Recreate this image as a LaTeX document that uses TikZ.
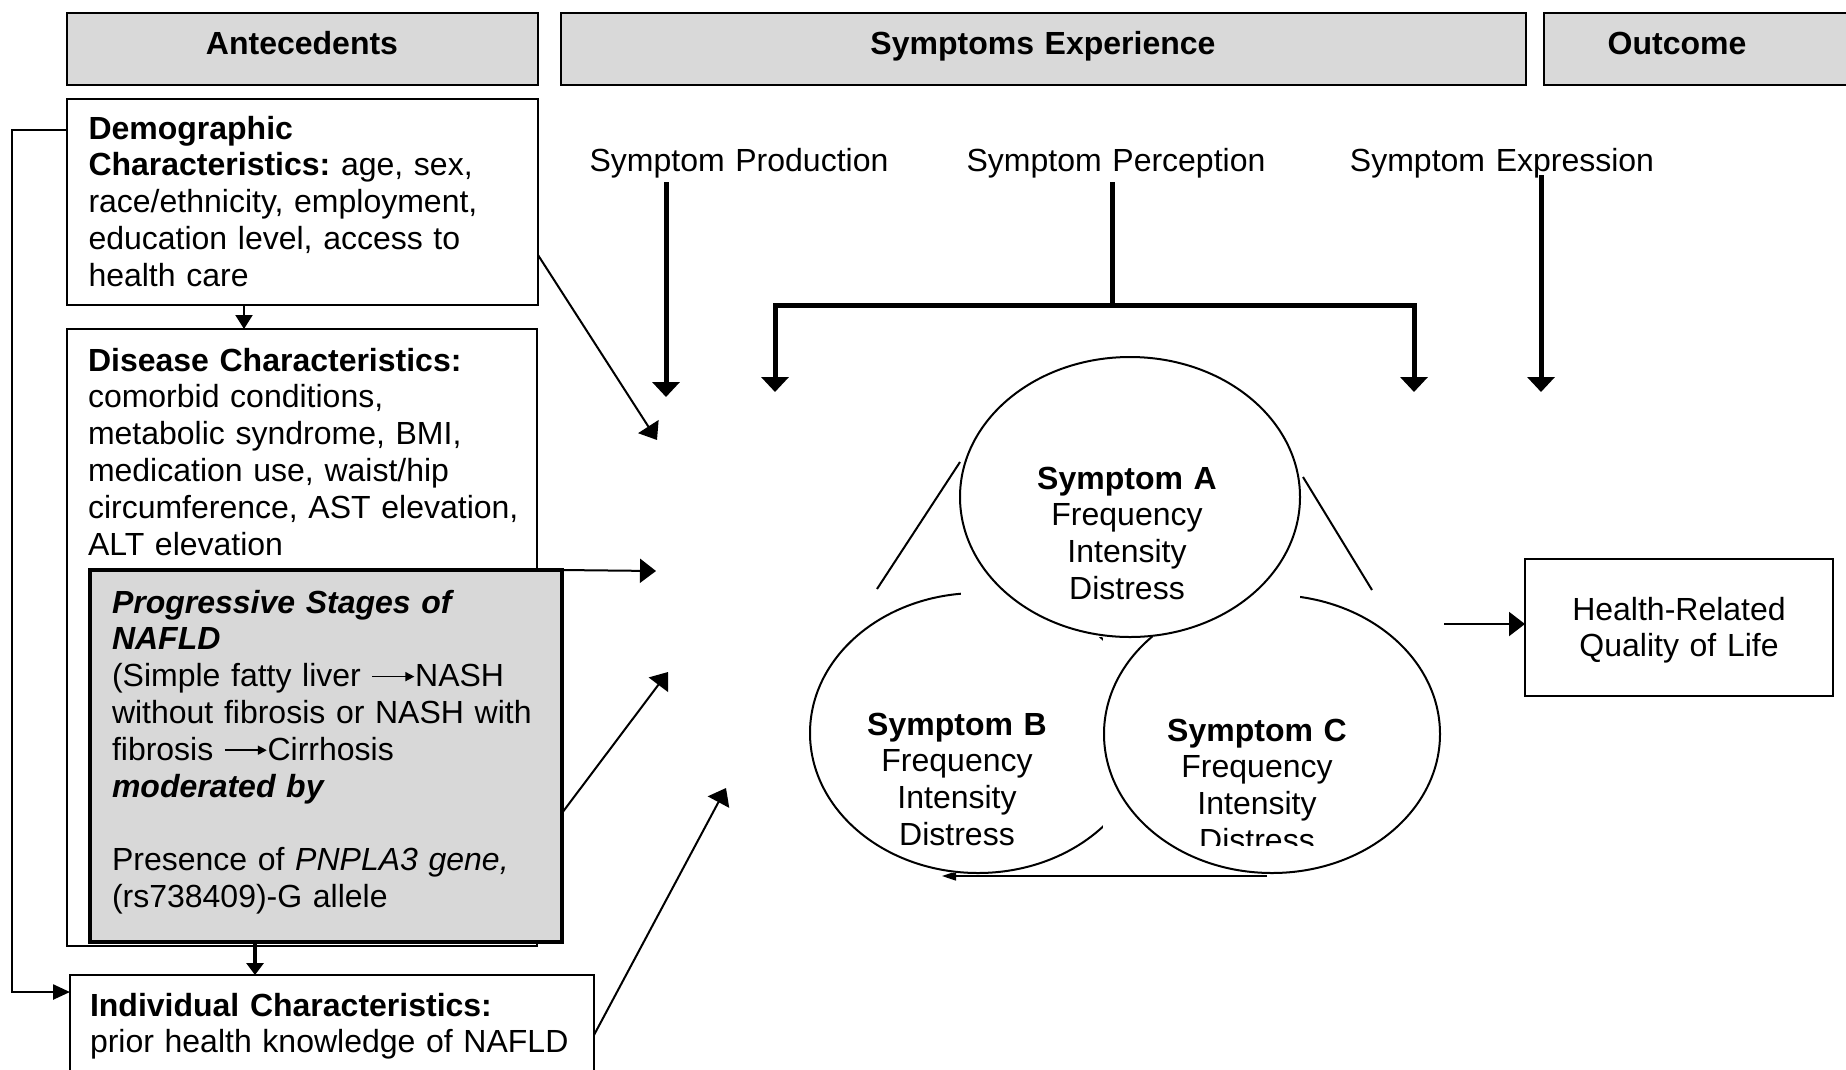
\documentclass[tikz,border=0pt]{standalone}
\usepackage{fontspec}
\setmainfont{Liberation Sans}
\usetikzlibrary{arrows.meta,shapes.geometric}
\definecolor{hdrgray}{RGB}{217,217,217}
\definecolor{nafgray}{RGB}{216,216,216}
\newcommand{\longarr}{\tikz[baseline=0pt,x=1pt,y=1pt]{\draw[line width=1.6pt,-{Triangle[length=9pt,width=9pt]}] (0,10) -- (42,10);}}
\frenchspacing
\begin{document}
\begin{tikzpicture}[x=1pt,y=-1pt,
  every node/.style={inner sep=0pt,outer sep=0pt},
  fnt/.style={font=\fontsize{32}{36.8}\selectfont},
  ltxt/.style={fnt,align=left,anchor=base west},
  ctxt/.style={fnt,text width=#1,align=center,anchor=base},
  ctxt/.default=320pt,
  hdr/.style={draw,line width=2pt,fill=hdrgray,anchor=north west},
  box/.style={draw,line width=2pt,fill=white,anchor=north west},
  ell/.style={draw,ellipse,line width=2pt},
  thinarr/.style={line width=2pt,-{Triangle[length=16pt,width=24pt]}},
  thickarr/.style={line width=5pt,-{Triangle[length=15pt,width=27pt]}},
  thickline/.style={line width=5pt},
  thinline/.style={line width=2pt},
]
\path[use as bounding box] (0,0) rectangle (1846,1069);
\fill[white] (0,0) rectangle (1846,1069);
\clip (0,0) rectangle (1846,1069);

% ---------- headers ----------
\node[hdr,minimum width=471pt,minimum height=72pt] (hAnt) at (67,13) {};
\node[hdr,minimum width=965pt,minimum height=72pt] (hSym) at (561,13) {};
\node[hdr,minimum width=320pt,minimum height=72pt] (hOut) at (1544,13) {};
\node[ctxt] (hAntT) at (302,54) {\textbf{Antecedents}};
\node[ctxt=400pt] (hSymT) at (1043,54) {\textbf{Symptoms Experience}};
\node[ctxt] (hOutT) at (1677,54) {\textbf{Outcome}};

% ---------- antecedent boxes ----------
\node[box,minimum width=471pt,minimum height=206pt] (demo) at (67,99) {};
\node[ltxt,text width=440pt] (demoT) at (88.5,139)
  {\textbf{Demographic}\\\textbf{Characteristics:} age, sex,\\race/ethnicity, employment,\\education level, access to\\health care};

\node[box,minimum width=470pt,minimum height=617pt] (dis) at (67,329) {};
\node[ltxt,text width=440pt] (disT) at (88,371)
  {\textbf{Disease Characteristics:}\\comorbid conditions,\\metabolic syndrome, BMI,\\medication use, waist/hip\\circumference, AST elevation,\\ALT elevation};

\node[box,fill=nafgray,line width=4pt,minimum width=472pt,minimum height=372pt] (naf) at (90,570) {};
\node[ltxt,text width=445pt] (nafT) at (112,613)
  {\textbf{\textit{Progressive Stages of}}\\\textbf{\textit{NAFLD}}\\(Simple fatty liver \longarr NASH\\without fibrosis or NASH with\\fibrosis \longarr Cirrhosis\\\textbf{\textit{moderated by}}\\[36.8pt]Presence of \textit{PNPLA3 gene,}\\(rs738409)-G allele};

\node[box,minimum width=524pt,minimum height=130pt] (indiv) at (70,975) {};
\node[ltxt,text width=498pt] (indT) at (90,1016)
  {\textbf{Individual Characteristics:}\\prior health knowledge of NAFLD};

% ---------- antecedent connectors ----------
\coordinate (lc1) at (12,130);
\coordinate (lc2) at (12,992);
\draw[line width=2.5pt,-{Triangle[length=17pt,width=15pt]}]
  ([yshift=-31pt]demo.north west) -- (lc1) -- (lc2) -- ([yshift=-17pt]indiv.north west);
\draw[line width=2pt,-{Triangle[length=14pt,width=17pt]}]
  ([xshift=-58.5pt]demo.south) -- ([xshift=-58pt]dis.north);
\draw[line width=4pt,-{Triangle[length=12pt,width=17pt]}]
  ([xshift=-71pt]naf.south) -- ([xshift=-77pt]indiv.north);

\coordinate (t1) at (657,440);
\coordinate (t2) at (656,571);
\coordinate (t3) at (668,672);
\coordinate (t4) at (726,788);
\draw[thinarr] ([yshift=-53pt]demo.east) -- (t1);
\draw[thinarr] (naf.north east) -- (t2);
\draw[thinarr] ([yshift=-57pt]naf.east) -- (t3);
\draw[thinarr] ([yshift=5pt]indiv.east) -- (t4);

% ---------- symptom labels and arrows ----------
\node[ctxt=340pt] (lProd) at (739,171) {Symptom Production};
\node[ctxt=340pt] (lPerc) at (1116,171) {Symptom Perception};
\node[ctxt=340pt] (lExpr) at (1502,171) {Symptom Expression};

\coordinate (pS) at (666,182);
\coordinate (pT) at (666,397);
\draw[thickarr] (pS) -- (pT);

\coordinate (qS) at (1112,182);
\coordinate (qJ) at (1112,305);
\coordinate (qL) at (775,392);
\coordinate (qR) at (1414,392);
\draw[thickline] (qS) -- (qJ);
\draw[thickarr] (qJ) -| (qL);
\draw[thickarr] (qJ) -| (qR);

\coordinate (eS) at (1541,175);
\coordinate (eT) at (1541,392);
\draw[thickarr] (eS) -- (eT);

% ---------- triangle remnants ----------
\coordinate (tlA) at (960,462);
\coordinate (tlB) at (877,589);
\coordinate (trA) at (1303,477);
\coordinate (trB) at (1372,590);
\coordinate (tbA) at (1267,876);
\coordinate (tbB) at (942,876);
\draw[thinline] (tlA) -- (tlB);
\draw[thinline] (trA) -- (trB);
\draw[line width=1.6pt,-{Triangle[length=14pt,width=9pt]}] (tbA) -- (tbB);

% ---------- symptom ellipses ----------
\fill[white] (810,593) rectangle (1146,873);
\node[ell,minimum width=336pt,minimum height=280pt] (symB) at (978,733) {};
\node[ctxt] (symBT) at (957,735) {\textbf{Symptom B}\\Frequency\\Intensity\\Distress};

\fill[white] (1103,595) rectangle (1440,873);
\node[ell,minimum width=336pt,minimum height=278pt] (symC) at (1272,734) {};
\begin{scope}
  \clip (1100,690) rectangle (1440,845);
  \node[ctxt] (symCT) at (1257,741) {\textbf{Symptom C}\\Frequency\\Intensity\\Distress};
\end{scope}

\fill[white] (961,357) rectangle (1300,637);
\node[ell,minimum width=340pt,minimum height=280pt] (symA) at (1130,497) {};
\node[ctxt] (symAT) at (1127,489) {\textbf{Symptom A}\\Frequency\\Intensity\\Distress};

% ---------- outcome ----------
\node[box,line width=2.7pt,minimum width=308pt,minimum height=137pt] (hrq) at (1525,559) {};
\node[ctxt] (hrqT) at (1679,620) {Health-Related\\Quality of Life};
\coordinate (hq) at (1444,624);
\draw[thinarr] (hq) -- (hq -| hrq.west);
\end{tikzpicture}
\end{document}
